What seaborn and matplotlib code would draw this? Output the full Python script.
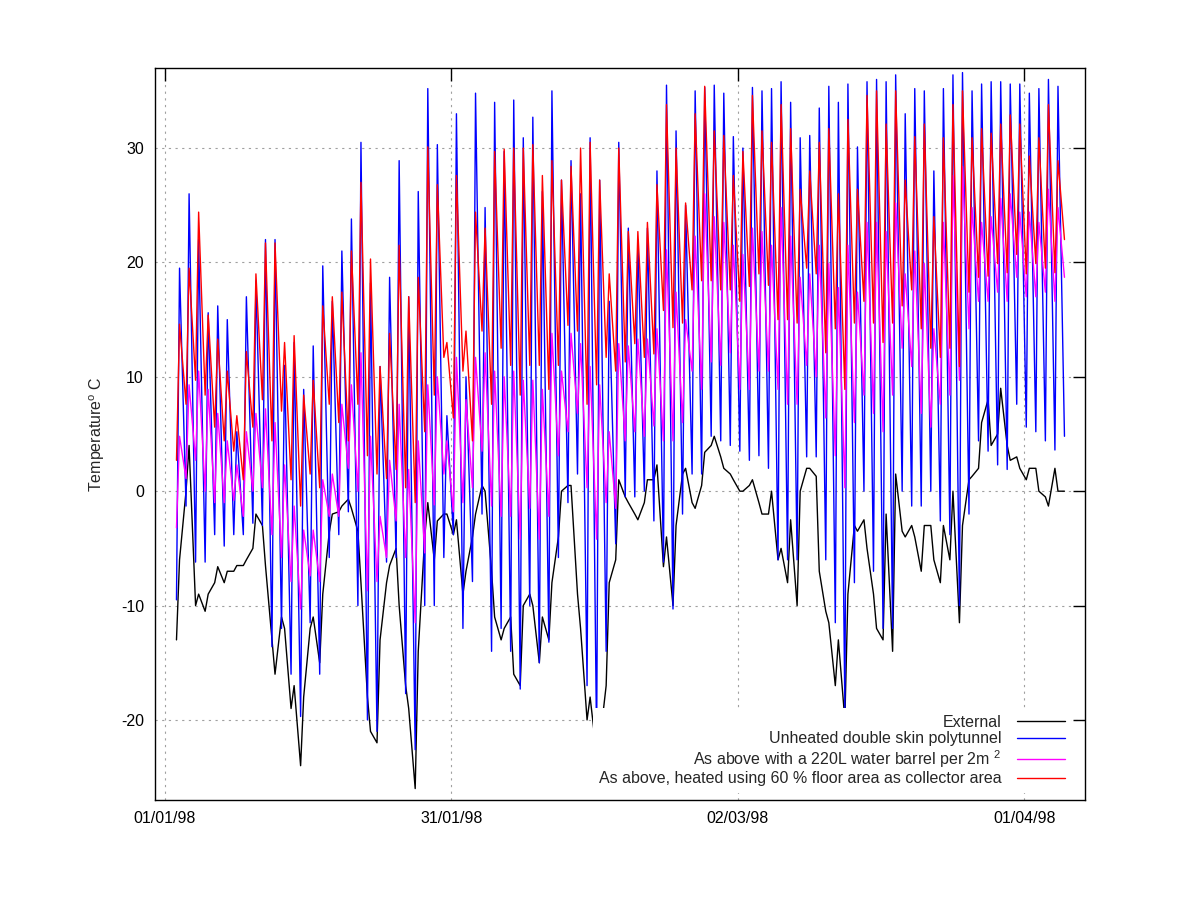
import numpy as np
import pandas as pd
import matplotlib
matplotlib.use("Agg")
import matplotlib.pyplot as plt
import matplotlib.dates as mdates
from matplotlib.lines import Line2D
import seaborn as sns

# legend labels and colours, in drawing order
labels = [
    "External",
    "Unheated double skin polytunnel",
    "As above with a 220L water barrel per 2m $^2$",
    "As above, heated using 60 % floor area as collector area",
]
colors = ["#000000", "#0000ff", "#ff00ff", "#ff0000"]

tick_dates = ["1998-01-01", "1998-01-31", "1998-03-02", "1998-04-01"]

# day number after 01/01/98: one pre-dawn and one early-afternoon reading per day
night_days = np.arange(1, 95)
day_days = np.arange(1, 94)

ext_night = [
    -13, 0, -10, -10.5, -8, -8, -7, -6.5, -5, -3,
    -13, -11, -19, -24, -12, -15, -3.6, -1.8, -0.7, -3.5,
    -18, -22, -8, -5, -17, -26, -4, -6, -2, -3.8,
    -9, -4, 0.5, -7, -13, -11, -17, -9, -15, -13,
    -4, 0.5, -9, -20, -23, -17, -6, -0.5, -2, -1,
    1, -6.6, -10, 1.5, -1, 0.5, 4, 3, 1.5, 0,
    0.5, -1, -2, -6, -8, -10, 2, 1.3, -10.5, -17,
    -20, -3, -2.5, -9, -13, -14, -3.5, -3, -7, -3,
    -8, -6, -11.5, 1, 2, 8, 5, 4, 3, 1,
    2, -0.5, 2, 0,
]
ext_day = [
    -6, 4, -9, -9, -6.6, -7, -6.5, -6, -2, -6.5,
    -16, -12, -17, -18, -11, -9, -2, -1.3, -1.5, -8,
    -21, -13, -6.5, -10, -19, -14, -1, -2.6, -2, -2.5,
    -7, -2, 0, -11, -12, -16, -10, -10, -11, -8,
    0, 0.5, -12, -18, -22, -8, 1, -1, -2.5, 1,
    2.3, -4, -3, 2, -1.5, 3.4, 4.8, 2, 1, 0,
    1, -2, 0, -5, -2.5, 0, 2, -7, -11.5, -13,
    -9, -3.5, -5, -12, -2, 1.5, -4, -4, -3, -6,
    -3, 0, -3, 1.3, 6, 4, 9, 2.7, 2, 2,
    0, -1.3, 0,
]

unheated_night = [
    -9.5, -1.3, -6.2, -6.2, -3.8, -4.8, -3.8, -3.8, -2.8, -3,
    -13.6, -12, -16, -19.7, -11.5, -16, -5.8, -3.8, -1.8, -10,
    -20, -21, -6.2, -5.8, -17.7, -22.6, -10, -10, -5.8, -3.8,
    -12, -7.9, -2, -14, -12, -14, -17.3, -10, -15, -13.2,
    -5.8, -1, 1.5, -17, -22, -14, -4.6, -0.5, -0.5, 0,
    -2.6, -6.2, -10.3, -2, 1.5, 1.5, 4.8, 4.4, 4, 3.5,
    2.7, 3.1, 2, -6, -6, -6, 3, 3, -6, -11.5,
    -19, -8, 0, -7, -12, -12, 0, -1.3, -1.3, 0,
    -2.6, -3.8, -10, -2, 4.4, 3.5, 2.3, 1.9, 7.6, 5.6,
    5.2, 4.4, 3.6, 4.8,
]
unheated_day = [
    19.5, 26, 22, 15.6, 16.2, 15, 5.2, 17, 18.4, 22,
    22, 11, 13, 8.9, 12.7, 19.7, 16.6, 21, 23.8, 30.5,
    18.2, 10.9, 18.7, 28.9, 17, 26.2, 35.2, 30.3, 6.6, 33,
    10, 34.8, 24.8, 34, 29.7, 34.2, 30.9, 32.7, 26.2, 35,
    27.2, 28.9, 26, 30.9, 27.2, 16.6, 30.5, 23, 22, 23,
    28, 35.5, 31.5, 25, 35, 35.3, 35.5, 34.8, 31, 30,
    35.3, 35, 35.2, 35.8, 34, 30.9, 31.1, 33.5, 35.4, 34,
    35.6, 30.1, 35.8, 36, 35.8, 36.4, 33, 35.2, 35, 28,
    35.2, 36.4, 36.6, 35, 35.6, 35.8, 35.8, 35.6, 35.6, 34.8,
    35.2, 36, 35.4,
]

barrel_night = [
    -3.2, 1.1, 2.7, 0, -1, -1, -0.8, -2.2, 0, 0.3,
    -3.8, -5.8, -7.9, -10.3, -7.4, -7.9, -2.2, -2.2, 2, 0,
    -8.7, -7.9, -5.8, -2.6, -5.8, -11.5, -5.4, -1.2, 1.5, -1.8,
    -1, 0.3, 3.5, -1.3, -2.2, -2.2, -4.2, -1.5, -4.2, -2.2,
    3.1, 5.2, 6.8, 0.3, -4.2, -1, -1.5, 4.4, 5.2, 4.8,
    5.7, 4.4, 4.4, 6, 10.5, 8.9, 11.3, 11, 12.1, 8.9,
    8.9, 10.5, 10.5, 8.9, 7.6, 7.6, 11, 10, 6.4, 3.1,
    0.3, 6, 8.4, 6.8, 5.2, 8.4, 12.5, 10.9, 6.8, 5.6,
    7.6, 8.4, 9.7, 14.2, 16.6, 16.6, 17.4, 16.6, 18.7, 17,
    17, 17.4, 16.6, 18.7,
]
barrel_day = [
    4.8, 9.3, 10.5, 8.9, 6.8, 4.4, 2.3, 5.2, 6.8, 7.2,
    6, 2.3, -1.3, -3.4, -3.4, 1, 1.5, 7.6, 9.3, 12.1,
    4.8, -2.2, 2.7, 7.6, 1.9, 4.4, 9.3, 10, 4.4, 11.7,
    8, 11.7, 12.1, 10.5, 10, 10.5, 9.7, 9.7, 8.9, 13.8,
    10.5, 13.8, 12.9, 10.9, 9.3, 5.2, 12.9, 12.7, 13.3, 13.3,
    14.2, 21.1, 17.4, 15, 22.3, 26, 24, 23.5, 21.5, 20.7,
    23, 22.7, 21.5, 24.8, 22.3, 18.7, 19, 21.5, 19.9, 17.8,
    21.5, 17.4, 23.5, 23.5, 22.7, 25.2, 19, 21, 19.9, 14.2,
    23.5, 27.6, 28.4, 24.8, 23.5, 24, 25.6, 26, 24.4, 24.4,
    23.5, 26.4, 24.8,
]

heated_night = [
    2.7, 7.6, 9.7, 8.4, 5.6, 4.4, 3.5, 1, 5.6, 8,
    4.4, 7, 1, -1.3, 1.5, 0.3, 7.6, 6, 4.4, 7.6,
    3.1, 1.5, 1.1, 1.9, 0.3, -1, 5.2, 8.4, 11.7, 6.4,
    10.5, 4.4, 14, 7.6, 12.5, 11, 8.4, 11, 11, 8.9,
    11, 14.5, 14, 7.6, 9.3, 11.7, 10.5, 11.3, 12.9, 11.7,
    12, 15.8, 14.3, 14.7, 17.6, 18.4, 18.4, 17.6, 17.6, 16.6,
    17.9, 19, 18, 15, 15, 14.7, 19.5, 19, 12.1, 14.2,
    8.9, 14.7, 16.6, 14.7, 13, 14.7, 16.2, 17.6, 14.2, 12.5,
    11.7, 12.5, 10.9, 17.4, 18.7, 18.8, 19.9, 19.1, 20.7, 19,
    19.9, 19.5, 19.1, 22,
]
heated_day = [
    14.6, 19.5, 24.4, 15.4, 13.3, 10.5, 6.6, 12.2, 19, 21.7,
    21.7, 13, 13.6, 8.4, 9.7, 16.2, 17, 17.4, 21, 27,
    20.3, 10.9, 13.8, 21.5, 17, 18.7, 30.1, 26.8, 13, 27.6,
    14, 24.4, 23, 29.7, 29.9, 30, 30, 30.3, 27.6, 28.9,
    27.2, 28.4, 30, 30.5, 27.2, 19, 30, 22.7, 22.7, 23.5,
    26.8, 33.8, 30, 25.2, 33, 35.4, 31.5, 31.1, 27.6, 29.7,
    34.6, 31.5, 30.5, 33.8, 31.7, 26.4, 28, 30.5, 31.7, 26,
    32.5, 26.4, 34.6, 35, 32.1, 35, 27.2, 31, 32.1, 24,
    30.9, 33.8, 35, 30.9, 31.7, 31.3, 32.1, 32.9, 32.1, 29.3,
    30.9, 33.8, 28.9,
]

sns.set_style("white")
plt.rcParams["font.family"] = ["Liberation Sans", "DejaVu Sans"]
plt.rcParams["mathtext.fontset"] = "custom"
plt.rcParams["mathtext.rm"] = "Liberation Sans"
plt.rcParams["mathtext.it"] = "Liberation Sans"
plt.rcParams["axes.unicode_minus"] = False

FS = 11.5

# build one long table, readings sorted in time for each series
start = pd.Timestamp("1998-01-01")
night_hour, day_hour = 0.2, 0.52
nights = [ext_night, unheated_night, barrel_night, heated_night]
days = [ext_day, unheated_day, barrel_day, heated_day]
frames = []
for name, night, day in zip(labels, nights, days):
    t = np.concatenate([night_days + night_hour, day_days + day_hour])
    v = np.concatenate([night, day])
    order = np.argsort(t)
    frames.append(pd.DataFrame({
        "time": start + pd.to_timedelta(t[order], unit="D"),
        "temp": v[order],
        "series": name,
    }))
df = pd.concat(frames, ignore_index=True)

fig = plt.figure(figsize=(12, 9), dpi=100)
ax = fig.add_axes([155 / 1200, 100 / 900, 930 / 1200, 732 / 900])

sns.lineplot(data=df, x="time", y="temp", hue="series", hue_order=labels,
             palette=dict(zip(labels, colors)), estimator=None, sort=False,
             linewidth=1.0, legend=False, ax=ax)

ax.set_xlim(start - pd.Timedelta(days=1.05), start + pd.Timedelta(days=96.35))
ax.set_ylim(-27, 37)
ax.set_yticks([-20, -10, 0, 10, 20, 30])
ax.set_xticks(pd.to_datetime(tick_dates))
ax.xaxis.set_major_formatter(mdates.DateFormatter("%d/%m/%y"))
ax.tick_params(direction="in", length=9, width=1, top=True, right=True,
               labelsize=FS, pad=8, colors="black")
ax.set_xlabel("")
ax.set_ylabel("Temperature$^{\\mathrm{o}}$ C", fontsize=FS)
ax.yaxis.set_label_coords(-0.052, 0.5)
for s in ax.spines.values():
    s.set_visible(True)
    s.set_color("black")
    s.set_linewidth(1)

ax.set_axisbelow(True)
ax.grid(True, color="#a0a0a0", linestyle=(0, (2, 4)), linewidth=0.8)

handles = [Line2D([], [], color=c, linewidth=1.0) for c in colors]
ax.legend(handles, labels, loc="lower right", bbox_to_anchor=(0.985, 0.01),
          markerfirst=False, frameon=True, facecolor="white", edgecolor="none",
          framealpha=1, fancybox=False, handlelength=3.0, handletextpad=0.95,
          labelspacing=0.1, borderpad=0.4, borderaxespad=0, fontsize=FS)

fig.savefig("out.png", dpi=100)
